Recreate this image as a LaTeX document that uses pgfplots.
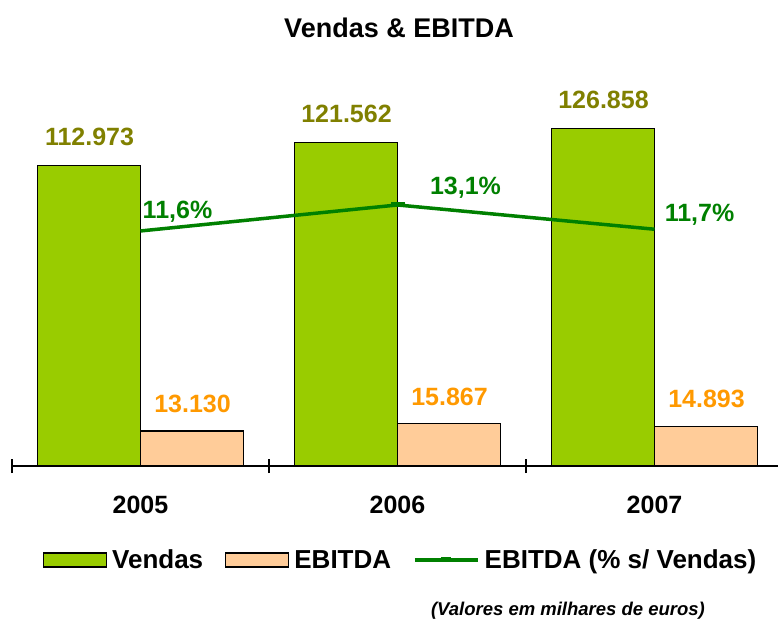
\documentclass[border=0pt]{standalone}
\usepackage{fontspec}
\setmainfont{Liberation Sans}
\usepackage{pgfplots}
\pgfplotsset{compat=1.18}

\definecolor{vendas}{HTML}{99CC00}
\definecolor{ebitda}{HTML}{FFCC99}
\definecolor{olivetxt}{HTML}{808000}
\definecolor{orangetxt}{HTML}{FF9900}
\definecolor{linegreen}{HTML}{008000}

\pgfplotstableread{
x y dx dy
0 11.6 37 19
1 13.1 68 17
2 11.7 45 14
}\margem

\begin{document}
\begin{tikzpicture}
\useasboundingbox (0,0) rectangle (778pt,624pt);

% bars: Vendas and EBITDA
\begin{axis}[
    scale only axis,
    width=771pt, height=386pt,
    at={(12pt,158pt)}, anchor=south west,
    xmin=-0.5, xmax=2.5,
    ymin=0, ymax=145000,
    axis x line*=bottom,
    axis y line=none,
    axis line style={black, line width=1.5pt},
    xtick={-0.5,0.5,1.5,2.5},
    xticklabels={},
    tick align=center,
    major tick length=14pt,
    tick style={black, line width=1.5pt},
    extra x ticks={0,1,2},
    extra x tick labels={2005,2006,2007},
    extra x tick style={major tick length=0pt,
        tick label style={yshift=-27pt}},
    xticklabel style={font=\bfseries\fontsize{25}{30}\selectfont},
    /pgf/number format/assume math mode=true,
    clip=false,
]
\addplot[ybar, bar width=0.4, bar shift=-0.2, fill=vendas, draw=black, line width=1.2pt,
    nodes near coords={\pgfmathprintnumber[fixed,precision=0,1000 sep={.}]{\pgfplotspointmeta}},
    every node near coord/.append style={anchor=center, xshift=-51pt, yshift=28pt, text=olivetxt,
        font=\bfseries\fontsize{25}{30}\selectfont}]
    coordinates {(0,112973) (1,121562) (2,126858)};
\addplot[ybar, bar width=0.4, bar shift=0.2, fill=ebitda, draw=black, line width=1.2pt,
    nodes near coords={\pgfmathprintnumber[fixed,precision=0,1000 sep={.}]{\pgfplotspointmeta}},
    every node near coord/.append style={anchor=center, xshift=52pt, yshift=27pt, text=orangetxt,
        font=\bfseries\fontsize{25}{30}\selectfont}]
    coordinates {(0,13130) (1,15867) (2,14893)};
\end{axis}

% line: EBITDA margin
\begin{axis}[
    scale only axis,
    width=771pt, height=386pt,
    at={(12pt,158pt)}, anchor=south west,
    xmin=-0.5, xmax=2.5,
    ymin=-1.96, ymax=20.31,
    axis x line=none, axis y line=none,
    /pgf/number format/assume math mode=true,
    clip=false,
    legend columns=-1,
    legend style={at={(0.506,-0.2435)}, anchor=center, draw=none, fill=none,
        font=\bfseries\fontsize{26}{30}\selectfont,
        nodes={inner xsep=5pt},
        /tikz/every even column/.append style={column sep=17pt}},
]
\addlegendimage{legend image code/.code={
    \draw[fill=vendas, draw=black, line width=1.2pt] (0pt,-7pt) rectangle (63pt,7pt);}}
\addlegendentry{Vendas}
\addlegendimage{legend image code/.code={
    \draw[fill=ebitda, draw=black, line width=1.2pt] (0pt,-7pt) rectangle (63pt,7pt);}}
\addlegendentry{EBITDA}
\addplot[linegreen, line width=3.5pt, mark=-, mark size=7pt, mark indices={2},
    mark options={line width=5pt},
    legend image code/.code={
        \draw[linegreen, line width=3.5pt] (0pt,0pt) -- (63pt,0pt);
        \draw[linegreen, line width=5pt] (26pt,0pt) -- (36pt,0pt);}]
    table[x=x, y=y] {\margem};
\addlegendentry{EBITDA (\% s/ Vendas)}
% percentage labels
\addplot[draw=none, mark=*, mark size=0pt, forget plot,
    nodes near coords={\pgfmathprintnumber[fixed,fixed zerofill,precision=1,dec sep={,}]{\pgfplotspointmeta}\%},
    visualization depends on={\thisrow{dx} \as \dx},
    visualization depends on={\thisrow{dy} \as \dy},
    every node near coord/.append style={anchor=center, xshift=\dx pt, yshift=\dy pt,
        text=linegreen, font=\bfseries\fontsize{25}{30}\selectfont}]
    table[x=x, y=y] {\margem};
\end{axis}

\node[font=\bfseries\fontsize{27}{32}\selectfont] at (399pt,596pt) {Vendas \& EBITDA};
\node[font=\bfseries\itshape\fontsize{18.5}{22}\selectfont] at (568pt,13pt) {(Valores em milhares de euros)};
\end{tikzpicture}
\end{document}
